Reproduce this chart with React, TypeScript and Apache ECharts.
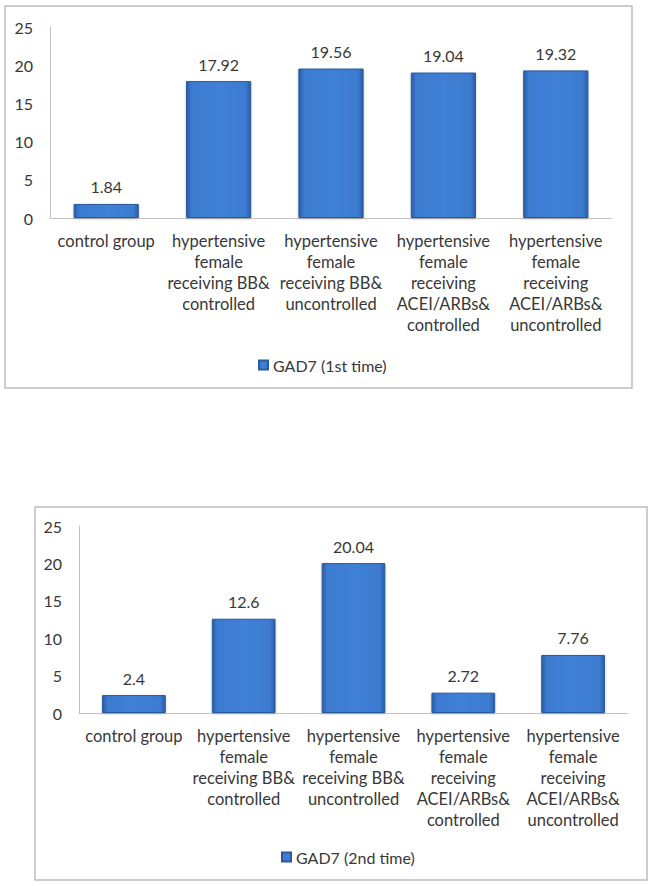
import React, { useEffect, useRef } from "react";
import * as echarts from "echarts";

const categories = [
  "control group",
  "hypertensive\nfemale\nreceiving BB&\ncontrolled",
  "hypertensive\nfemale\nreceiving BB&\nuncontrolled",
  "hypertensive\nfemale\nreceiving\nACEI/ARBs&\ncontrolled",
  "hypertensive\nfemale\nreceiving\nACEI/ARBs&\nuncontrolled",
];
const firstTimeValues = [1.84, 17.92, 19.56, 19.04, 19.32];
const secondTimeValues = [2.4, 12.6, 20.04, 2.72, 7.76];
const seriesNames = ["GAD7 (1st time)", "GAD7 (2nd time)"];
const yMin = 0;
const yMax = 25;
const yInterval = 5;

const FONT = "Lato, 'Open Sans', sans-serif";
const TEXT = "#383838";
const AXIS = "#c3c3c3";

const barColor = new echarts.graphic.LinearGradient(0, 0, 1, 0, [
  { offset: 0, color: "#2a5da6" },
  { offset: 0.08, color: "#3b7bd0" },
  { offset: 0.5, color: "#3f80d6" },
  { offset: 0.92, color: "#3b7bd0" },
  { offset: 1, color: "#2a5da6" },
]);

function yAxis(gridIndex: number) {
  return {
    type: "value",
    gridIndex,
    min: yMin,
    max: yMax,
    interval: yInterval,
    splitLine: { show: false },
    axisTick: { show: false },
    axisLine: { show: true, lineStyle: { color: AXIS, width: 1 } },
    axisLabel: { color: TEXT, fontFamily: FONT, fontSize: 16, margin: 17 },
  };
}

function xAxis(gridIndex: number) {
  return {
    type: "category",
    gridIndex,
    data: categories,
    axisTick: { show: false },
    axisLine: { show: true, lineStyle: { color: AXIS, width: 1 } },
    axisLabel: {
      interval: 0,
      color: TEXT,
      fontFamily: FONT,
      fontSize: 16.5,
      lineHeight: 21,
      margin: 12,
      verticalAlign: "top",
    },
  };
}

function barSeries(name: string, data: number[], idx: number) {
  return {
    type: "bar",
    name,
    data,
    xAxisIndex: idx,
    yAxisIndex: idx,
    barWidth: "58%",
    itemStyle: {
      color: barColor,
      borderColor: "#2b5a9c",
      borderWidth: 1,
      shadowColor: "rgba(0,0,0,0.25)",
      shadowBlur: 2,
      shadowOffsetY: 1,
    },
    label: {
      show: true,
      position: "top",
      distance: 9,
      color: TEXT,
      fontFamily: FONT,
      fontSize: 16,
    },
  };
}

export default function App() {
  const ref = useRef<HTMLDivElement>(null);
  useEffect(() => {
    if (!ref.current) return;
    const chart = echarts.init(ref.current, undefined, { renderer: "svg" });
    chart.setOption({
      animation: false,
      backgroundColor: "#ffffff",
      graphic: [
        {
          type: "rect",
          shape: { x: 5, y: 6, width: 627, height: 382 },
          style: { fill: "none", stroke: "#bdbdbd", lineWidth: 1.5 },
          z: -1,
        },
        {
          type: "rect",
          shape: { x: 35, y: 507, width: 612, height: 373 },
          style: { fill: "none", stroke: "#bdbdbd", lineWidth: 1.5 },
          z: -1,
        },
      ],
      grid: [
        { left: 50, top: 27, width: 562, height: 191, containLabel: false },
        { left: 79, top: 526, width: 549, height: 187, containLabel: false },
      ],
      xAxis: [xAxis(0), xAxis(1)],
      yAxis: [yAxis(0), yAxis(1)],
      legend: [
        {
          data: [seriesNames[0]],
          left: 253,
          top: 352,
          itemWidth: 9,
          itemHeight: 9,
          itemGap: 5,
          textStyle: { color: TEXT, fontFamily: FONT, fontSize: 16 },
          icon: "rect",
        },
        {
          data: [seriesNames[1]],
          left: 276,
          top: 844,
          itemWidth: 9,
          itemHeight: 9,
          itemGap: 5,
          textStyle: { color: TEXT, fontFamily: FONT, fontSize: 16 },
          icon: "rect",
        },
      ],
      series: [
        barSeries(seriesNames[0], firstTimeValues, 0),
        barSeries(seriesNames[1], secondTimeValues, 1),
      ],
    });
    return () => chart.dispose();
  }, []);
  return (
    <div
      ref={ref}
      style={{ position: "absolute", left: 0, top: 0, width: 654, height: 886 }}
    />
  );
}
